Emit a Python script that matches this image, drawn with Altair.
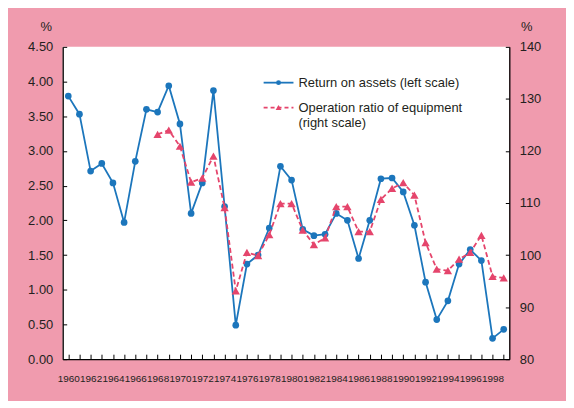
import altair as alt
import pandas as pd

years = list(range(1960, 2000))
roa = [3.79, 3.53, 2.71, 2.82, 2.54, 1.97, 2.85, 3.60, 3.56, 3.94,
       3.39, 2.10, 2.54, 3.87, 2.20, 0.49, 1.37, 1.50, 1.89, 2.78,
       2.58, 1.87, 1.78, 1.80, 2.10, 2.00, 1.45, 2.00, 2.60, 2.61,
       2.41, 1.93, 1.11, 0.57, 0.84, 1.37, 1.58, 1.42, 0.30, 0.43]
op_years = list(range(1968, 2000))
op_ratio = [123.2, 124.0, 120.9, 114.0, 114.8, 119.0, 109.1, 93.1, 100.5, 99.9,
            103.9, 109.9, 109.9, 104.8, 102.0, 103.3, 109.3, 109.3, 104.5, 104.5,
            110.7, 112.8, 113.9, 111.5, 102.4, 97.3, 97.0, 99.2, 100.5, 103.8,
            95.9, 95.6]
left_ticks = [0, 0.5, 1.0, 1.5, 2.0, 2.5, 3.0, 3.5, 4.0, 4.5]
right_ticks = [80, 90, 100, 110, 120, 130, 140]
legend_labels = ["Return on assets (left scale)", "Operation ratio of equipment", "(right scale)"]

BLUE = "#1c76bc"
RED = "#e5456c"
PINK = "#f09bae"
TXT = "#231f20"
FONT = "Liberation Sans"

df_roa = pd.DataFrame({"year": years, "roa": roa})
df_op = pd.DataFrame({"year": op_years, "op": op_ratio})

xscale = alt.Scale(domain=[1959.5, 1999.5], nice=False, zero=False)
xaxis = alt.Axis(values=years, labelExpr="datum.value % 2 == 0 ? datum.label : ''",
                 labelOverlap=False, labelFlush=False, grid=False, title=None,
                 format="d", tickSize={"expr": "-5"}, labelPadding=19,
                 domainColor="black", tickColor="black",
                 labelFont=FONT, labelFontSize=10, labelColor=TXT,
                 domainWidth=1.3, tickWidth=1)

x = alt.X("year:Q", scale=xscale, axis=xaxis)

left_axis = alt.Axis(values=left_ticks, format=".2f", grid=False, title="%",
                     titleAngle=0, titleX=-17, titleY=-13, titleAlign="center",
                     titleFontWeight="normal", titleFontSize=13, titleFont=FONT,
                     titleColor=TXT, tickSize={"expr": "-4"}, labelPadding=14,
                     domainColor="black", tickColor="black", labelFont=FONT,
                     labelFontSize=13, labelColor=TXT, domainWidth=1.3)
right_axis = alt.Axis(values=right_ticks, format="d", grid=False, title="%",
                      orient="right", titleAngle=0, titleX=17, titleY=-13,
                      titleAlign="center", titleFontWeight="normal", titleFontSize=13,
                      titleFont=FONT, titleColor=TXT, tickSize={"expr": "-4"},
                      labelPadding=14, domainColor="black", tickColor="black",
                      labelFont=FONT, labelFontSize=13, labelColor=TXT, domainWidth=1.3)

base_roa = alt.Chart(df_roa).encode(
    x=x,
    y=alt.Y("roa:Q", scale=alt.Scale(domain=[0, 4.5], nice=False), axis=left_axis),
)
roa_layer = alt.layer(
    base_roa.mark_line(color=BLUE, strokeWidth=1.8),
    base_roa.mark_point(shape="circle", filled=True, color=BLUE, size=45, opacity=1),
)

base_op = alt.Chart(df_op).encode(
    x=x,
    y=alt.Y("op:Q", scale=alt.Scale(domain=[80, 140], nice=False, zero=False), axis=right_axis),
)
op_layer = alt.layer(
    base_op.mark_line(color=RED, strokeWidth=1.8, strokeDash=[5, 3]),
    base_op.mark_point(shape="triangle-up", filled=True, color=RED, size=70, opacity=1),
)

# manual legend
one = pd.DataFrame({"k": [0]})
leg_line1 = alt.Chart(one).mark_rule(color=BLUE, strokeWidth=1.8).encode(
    x=alt.value(202), x2=alt.value(232), y=alt.value(36))
leg_pt1 = alt.Chart(one).mark_point(shape="circle", filled=True, color=BLUE, size=24, opacity=1).encode(
    x=alt.value(217), y=alt.value(36))
leg_line2 = alt.Chart(one).mark_rule(color=RED, strokeWidth=1.8, strokeDash=[4, 3]).encode(
    x=alt.value(202), x2=alt.value(232), y=alt.value(61))
leg_pt2 = alt.Chart(one).mark_point(shape="triangle-up", filled=True, color=RED, size=34, opacity=1).encode(
    x=alt.value(217), y=alt.value(61))
leg_df = pd.DataFrame({"label": legend_labels, "ly": [36, 61, 77]})
leg_text = alt.Chart(leg_df).mark_text(align="left", baseline="middle", font=FONT,
                                        fontSize=13, color=TXT).encode(
    x=alt.value(237), y=alt.Y("ly:Q", scale=None), text="label:N")

chart = alt.layer(
    roa_layer, op_layer, leg_line1, leg_pt1, leg_line2, leg_pt2, leg_text
).resolve_scale(y="independent").properties(
    width=449, height=314,
    autosize=alt.AutoSizeParams(type="none"),
    padding={"left": 55, "top": 38, "right": 57, "bottom": 41},
    background=PINK,
).configure_view(fill="white", stroke=None)

chart.save("out.html", embed_options={"renderer": "svg", "actions": False})
